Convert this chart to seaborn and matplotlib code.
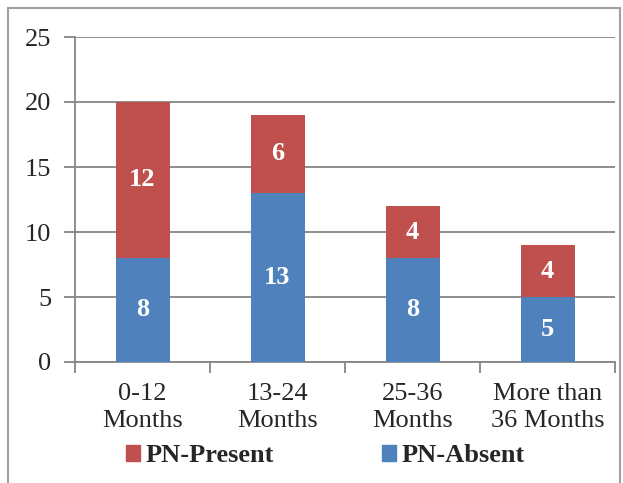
import matplotlib
matplotlib.use("Agg")
import matplotlib.pyplot as plt
from matplotlib.patches import Patch, Rectangle
import seaborn as sns
import pandas as pd

categories = ["0-12\nMonths", "13-24\nMonths", "25-36\nMonths", "More than\n36 Months"]
pn_absent = [8, 13, 8, 5]
pn_present = [12, 6, 4, 4]
totals = [a + p for a, p in zip(pn_absent, pn_present)]

RED = "#C0504D"
BLUE = "#4F81BD"
GRID = "#868686"

sns.set_theme(style="white")
plt.rcParams["font.family"] = ["Liberation Serif", "DejaVu Serif"]

df = pd.DataFrame({"group": categories, "absent": pn_absent,
                   "present": pn_present, "total": totals})

fig = plt.figure(figsize=(6.23, 4.83), dpi=100)
ax = fig.add_axes([75 / 623, 1 - 362 / 483, 540 / 623, 325 / 483])

# stacked bars: full height in red, absent part in blue over it
sns.barplot(data=df, x="group", y="total", color=RED, width=0.4,
            saturation=1, ax=ax, zorder=3, linewidth=0)
sns.barplot(data=df, x="group", y="absent", color=BLUE, width=0.4,
            saturation=1, ax=ax, zorder=4, linewidth=0)

for i, (a, p) in enumerate(zip(pn_absent, pn_present)):
    ax.text(i, a / 2, str(a), ha="center", va="center", color="white",
            fontsize=19, fontweight="bold", zorder=5)
    ax.text(i, a + p / 2, str(p), ha="center", va="center", color="white",
            fontsize=19, fontweight="bold", zorder=5)

ax.set_ylim(0, 25)
ax.set_yticks([0, 5, 10, 15, 20, 25])
ax.set_xlim(-0.5, 3.5)
ax.set_xlabel("")
ax.set_ylabel("")
ax.yaxis.grid(True, color=GRID, linewidth=1.3, zorder=0)
ax.set_axisbelow(True)

for side in ("top", "right"):
    ax.spines[side].set_visible(False)
for side in ("left", "bottom"):
    ax.spines[side].set_color(GRID)
    ax.spines[side].set_linewidth(1.3)

ax.tick_params(axis="y", which="major", length=8, width=1.3, color=GRID,
               labelsize=19, pad=9, left=True, direction="out")
ax.tick_params(axis="x", which="major", length=0, labelsize=19, pad=15)
# category boundary ticks on the x axis
ax.set_xticks([-0.5, 0.5, 1.5, 2.5, 3.5], minor=True)
ax.tick_params(axis="x", which="minor", length=8, width=1.3, color=GRID,
               bottom=True, direction="out")
for lab in ax.get_xticklabels():
    lab.set_linespacing(1.3)

handles = [Patch(color=RED, label="PN-Present"), Patch(color=BLUE, label="PN-Absent")]
fig.legend(handles=handles, loc="center", bbox_to_anchor=(0.522, 1 - 456 / 483),
           ncol=2, frameon=False, prop={"weight": "bold", "size": 19},
           handlelength=0.55, handleheight=0.55, handletextpad=0.2,
           columnspacing=4.1)

# outer chart frame
fig.patches.append(Rectangle((8 / 623, -0.1), (620 - 8) / 623, 1.1 - 8 / 483,
                             transform=fig.transFigure, fill=False,
                             edgecolor="#A0A0A0", linewidth=1.5))

fig.savefig("out.png", dpi=100)
